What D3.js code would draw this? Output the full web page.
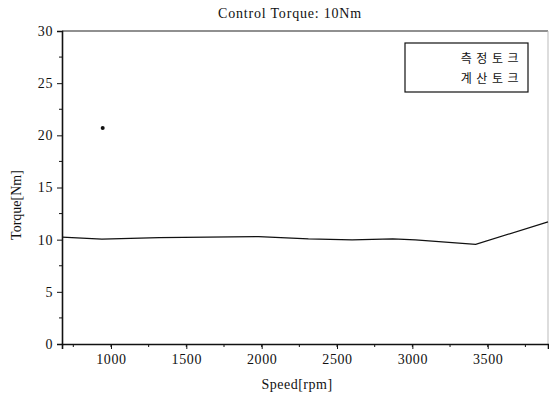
<!DOCTYPE html>
<html>
<head>
<meta charset="utf-8">
<script src="https://cdnjs.cloudflare.com/ajax/libs/d3/7.8.5/d3.min.js"></script>
<style>
body { margin: 0; background: #fff; }
svg { display: block; }
text { fill: #111; }
.axis path, .axis line { stroke: #111; }
</style>
</head>
<body>
<svg></svg>
<script>
// measured torque (single point) and calculated torque (line)
var measuredSpeed = [945];
var measuredTorque = [20.7];
var calcSpeed = [675, 940, 1320, 1980, 2310, 2600, 2870, 3020, 3420, 3900];
var calcTorque = [10.25, 10.05, 10.2, 10.3, 10.08, 9.98, 10.08, 9.98, 9.55, 11.7];
var xTicks = [1000, 1500, 2000, 2500, 3000, 3500];
var yTicks = [0, 5, 10, 15, 20, 25, 30];
var legendLabels = ["측정토크", "계산토크"];

var screen = {width: 549, height: 400};
var margins = {top: 31, right: 1, bottom: 56, left: 62};
var width = screen.width - margins.left - margins.right;
var height = screen.height - margins.top - margins.bottom;

var serif = "'Liberation Serif', 'DejaVu Serif', serif";

var svg = d3.select("svg")
    .attr("width", screen.width)
    .attr("height", screen.height);

var xScale = d3.scaleLinear().domain([675, 3900]).range([0, width]);
var yScale = d3.scaleLinear().domain([0, 30]).range([height, 0]);

var g = svg.append("g")
    .attr("transform", "translate(" + margins.left + "," + margins.top + ")");

// frame top and right
g.append("line").attr("x1", 0).attr("x2", width).attr("y1", 0).attr("y2", 0)
    .attr("stroke", "#222").attr("stroke-width", 1.2);
g.append("line").attr("x1", width).attr("x2", width).attr("y1", 0).attr("y2", height)
    .attr("stroke", "#bbb").attr("stroke-width", 1);

// minor ticks
var xMinor = d3.range(750, 3900, 250);
g.append("g").selectAll("line").data(xMinor).enter().append("line")
    .attr("x1", function(d) { return xScale(d); })
    .attr("x2", function(d) { return xScale(d); })
    .attr("y1", height).attr("y2", height + 3)
    .attr("stroke", "#111");
var yMinor = d3.range(2.5, 30, 5);
g.append("g").selectAll("line").data(yMinor).enter().append("line")
    .attr("x1", -3).attr("x2", 0)
    .attr("y1", function(d) { return yScale(d); })
    .attr("y2", function(d) { return yScale(d); })
    .attr("stroke", "#111");

var xAxis = d3.axisBottom(xScale).tickValues(xTicks).tickSize(5).tickPadding(5).tickFormat(d3.format("d"));
var yAxis = d3.axisLeft(yScale).tickValues(yTicks).tickSize(5).tickPadding(4);

var gx = g.append("g").classed("axis", true)
    .attr("transform", "translate(0," + height + ")")
    .call(xAxis)
    .attr("font-family", serif)
    .attr("font-size", 14);
gx.select(".domain").attr("stroke-width", 1.6);
gx.selectAll("text").attr("letter-spacing", 0.6);

var gy = g.append("g").classed("axis", true)
    .call(yAxis)
    .attr("font-family", serif)
    .attr("font-size", 14);
gy.select(".domain").attr("stroke-width", 1.6);
gy.selectAll("text").attr("letter-spacing", 0.6);

// calculated torque line
var calc = calcSpeed.map(function(s, i) { return {x: s, y: calcTorque[i]}; });
g.append("path")
    .datum(calc)
    .attr("fill", "none")
    .attr("stroke", "#111")
    .attr("stroke-width", 1.2)
    .attr("d", d3.line().x(function(d) { return xScale(d.x); }).y(function(d) { return yScale(d.y); }));

// measured point
g.selectAll(".pt").data(measuredSpeed).enter().append("circle")
    .attr("class", "pt")
    .attr("cx", function(d) { return xScale(d); })
    .attr("cy", function(d, i) { return yScale(measuredTorque[i]); })
    .attr("r", 2)
    .attr("fill", "#111");

// legend
var lg = g.append("g").attr("transform", "translate(" + (405 - margins.left) + "," + (43 - margins.top) + ")");
lg.append("rect").attr("width", 123).attr("height", 49)
    .attr("fill", "#fff").attr("stroke", "#111").attr("stroke-width", 1.2);
lg.selectAll("text").data(legendLabels).enter().append("text")
    .attr("x", 118)
    .attr("y", function(d, i) { return 20 + i * 20; })
    .attr("text-anchor", "end")
    .attr("font-family", "Noto Sans CJK KR")
    .attr("font-size", 12)
    .attr("letter-spacing", 4.5)
    .text(function(d) { return d; });

// title and axis labels
svg.append("text")
    .attr("x", 290).attr("y", 18)
    .attr("text-anchor", "middle")
    .attr("font-family", serif)
    .attr("font-size", 14)
    .attr("letter-spacing", 0.8)
    .text("Control Torque: 10Nm");

svg.append("text")
    .attr("x", 297).attr("y", 389)
    .attr("text-anchor", "middle")
    .attr("font-family", serif)
    .attr("font-size", 14)
    .attr("letter-spacing", 0.5)
    .text("Speed[rpm]");

svg.append("text")
    .attr("transform", "translate(21,205) rotate(-90)")
    .attr("text-anchor", "middle")
    .attr("font-family", serif)
    .attr("font-size", 14)
    .text("Torque[Nm]");
</script>
</body>
</html>
